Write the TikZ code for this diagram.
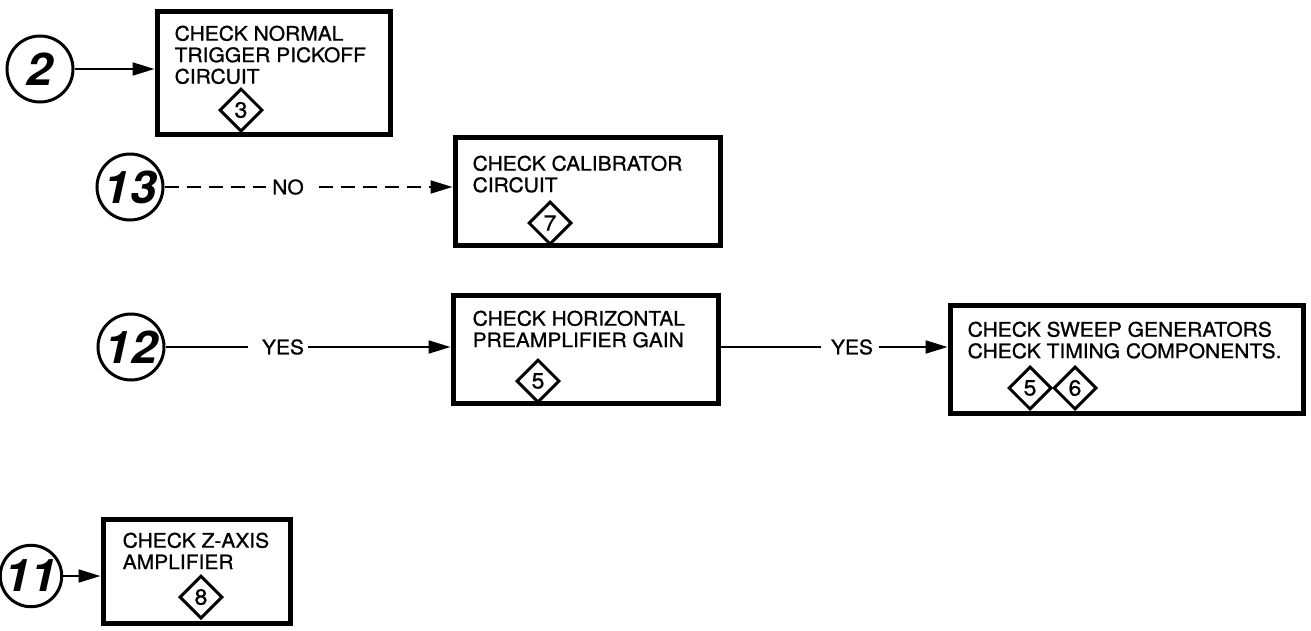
\documentclass[tikz,border=0pt]{standalone}
\usepackage{fontspec}
\setmainfont{TeX Gyre Heros}[FakeStretch=1.05]
\newfontfamily\boxfont{TeX Gyre Heros}[FakeStretch=1.05, FakeBold=0.9]
\usetikzlibrary{shapes.geometric, arrows.meta, positioning}

\begin{document}
\begin{tikzpicture}[x=1pt, y=-1pt, node distance=45pt, >={Triangle[length=22pt,width=13pt]},
    stepno/.style={draw, circle, line width=3pt, minimum size=66pt, inner sep=0pt,
        font=\fontsize{45}{45}\selectfont\bfseries\itshape},
    chkbox/.style={draw, rectangle, line width=5pt, inner sep=0pt},
    chktext/.style={anchor=north west, align=left, inner sep=0pt,
        font=\boxfont\fontsize{20}{21.5}\selectfont},
    tag/.style={draw, diamond, line width=3pt, minimum width=43pt, minimum height=43pt,
        inner sep=0pt, font=\boxfont\fontsize{22}{22}\selectfont},
    flow/.style={line width=2pt},
    nodash/.style={flow, dash pattern=on 14pt off 8pt},
    answer/.style={inner sep=0pt, font=\boxfont\fontsize{20}{20}\selectfont}]
    \useasboundingbox (0,0) rectangle (1311,630);

    % Step circles
    \node [stepno] (c2) at (40,69) {2};
    \node [stepno] (c13) at (130,187) {13};
    \node [stepno] (c12) at (131,347) {12};
    \node [stepno, minimum size=61pt] (c11) at (31,576) {11};

    % Check boxes
    \node [chkbox, minimum width=233pt, minimum height=123pt] (box1) at (273.5,72.5) {};
    \node [chktext] (txt1) at ([shift={(20,17)}]box1.north west) {CHECK NORMAL\\TRIGGER PICKOFF\\CIRCUIT};
    \node [tag] (tag3) at (241,110) {3};

    \node [chkbox, minimum width=265pt, minimum height=108pt] (box2) at (587.5,191) {};
    \node [chktext] (txt2) at ([shift={(20,21)}]box2.north west) {CHECK CALIBRATOR\\CIRCUIT};
    \node [tag] (tag7) at (550,223) {7};

    \node [chkbox, minimum width=265pt, minimum height=108pt] (box3) at (585.5,349) {};
    \node [chktext] (txt3) at ([shift={(22,18)}]box3.north west) {CHECK HORIZONTAL\\PREAMPLIFIER GAIN};
    \node [tag] (tag5a) at (538,381) {5};

    \node [chkbox, minimum width=353pt, minimum height=108pt] (box4) at (1126.5,359) {};
    \node [chktext] (txt4) at ([shift={(20,19)}]box4.north west) {CHECK SWEEP GENERATORS\\CHECK TIMING COMPONENTS.};
    \node [tag] (tag5b) at (1030,388) {5};
    \node [tag, right of=tag5b] (tag6) {6};

    \node [chkbox, minimum width=187pt, minimum height=104pt] (box5) at (196.5,571) {};
    \node [chktext] (txt5) at ([shift={(22,16)}]box5.north west) {CHECK Z-AXIS\\AMPLIFIER};
    \node [tag] (tag8) at (201,597) {8};

    % Answer labels
    \node [answer] (no) at (288,187) {NO};
    \node [answer] (yes1) at (283,347) {YES};
    \node [answer] (yes2) at (852,347) {YES};

    % Connections
    \draw [flow, ->] (c2) -- (c2 -| box1.west);
    \draw [nodash] (c13) -- ([xshift=-6pt]no.west);
    \draw [nodash, ->] ([xshift=15pt]no.east) -- (no -| box2.west);
    \draw [flow] (c12) -- ([xshift=-14pt]yes1.west);
    \draw [flow, ->] ([xshift=4pt]yes1.east) -- (yes1 -| box3.west);
    \draw [flow] (box3.east |- yes2) -- ([xshift=-10pt]yes2.west);
    \draw [flow, ->] ([xshift=6pt]yes2.east) -- (yes2 -| box4.west);
    \draw [flow, ->] (c11) -- (c11 -| box5.west);
\end{tikzpicture}
\end{document}
